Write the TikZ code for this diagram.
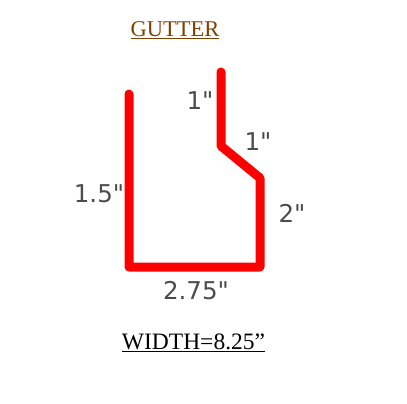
\documentclass[tikz,border=0pt]{standalone}
\usepackage{fontspec}
\setmainfont{Liberation Serif}
\newfontfamily\dimfont{DejaVu Sans}
\usepackage{xcolor}
\definecolor{TitleBrown}{RGB}{128,64,0}
\tikzset{
  dimlabel/.style={color=black!70,font=\dimfont\fontsize{24.5}{24.5}\selectfont},
  gutterline/.style={line width=9pt,color=red,line cap=round,line join=round},
}
\begin{document}
\begin{tikzpicture}[x=1pt,y=-1pt]
\useasboundingbox (0,0) rectangle (407,404);
\draw[gutterline] (129,94) -- (129,267) -- (260,267) -- (260,178) -- (221,146) -- (221,72);

\node[color=TitleBrown,font=\fontsize{22.5}{22.5}\selectfont] (title) at (175,30.5) {\underline{GUTTER}};
\node[font=\fontsize{23.5}{23.5}\selectfont] (width) at (193.5,342.5) {\underline{WIDTH=8.25''}};

\node[dimlabel] (one) at (200,101) {1"};
\node[dimlabel] (onea) at (258,142) {1"};
\node[dimlabel] (onefive) at (99,194) {1.5"};
\node[dimlabel] (two) at (292,213) {2"};
\node[dimlabel] (twoseven) at (196,291) {2.75"};
\end{tikzpicture}
\end{document}
